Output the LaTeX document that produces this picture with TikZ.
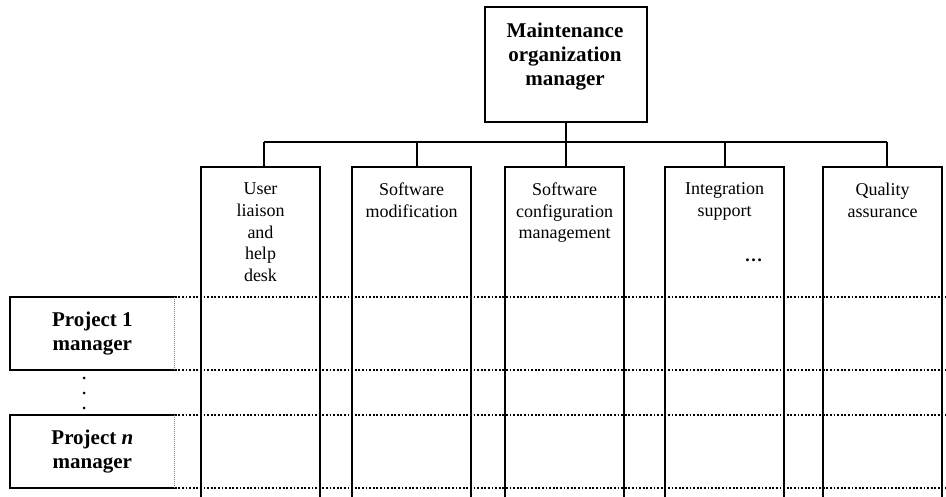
\documentclass[tikz,border=0pt]{standalone}
\usepackage{fontspec}
\setmainfont{Liberation Serif}
\begin{document}
\begin{tikzpicture}[x=1pt,y=-1pt,
  line width=1.7pt,
  reg/.style={font=\fontsize{18}{21.7}\selectfont, align=center, inner sep=0pt, anchor=north},
  bld/.style={font=\fontsize{21}{24}\selectfont\bfseries, align=center, inner sep=0pt},
  dotline/.style={line width=1.9pt, dash pattern=on 1.9pt off 1.7pt},
  thindot/.style={line width=0.8pt, dash pattern=on 1pt off 1pt, gray},
  colbox/.style={minimum width=117pt, minimum height=345pt, anchor=north, inner sep=0pt, draw=none},
  projbox/.style={bld, minimum width=163pt, minimum height=71pt, anchor=north west},
  vdot/.style={circle, fill, inner sep=0pt, minimum size=3pt},
]
\useasboundingbox (0,0) rectangle (946,497);

% top manager box
\node[draw, minimum width=162pt, minimum height=115pt, anchor=north west, inner sep=0pt] (top) at (484,6) {};
\node[bld, anchor=north] (toptext) at (565,22) {Maintenance\\organization\\manager};

% columns
\node[colbox] (c1) at (260.5,167) {};
\node[colbox] (c2) at (411.5,167) {};
\node[colbox] (c3) at (564.5,167) {};
\node[colbox] (c4) at (724.5,167) {};
\node[colbox] (c5) at (882.5,167) {};
\foreach \i in {1,...,5}{
  \draw (c\i.south west) -- (c\i.north west) -- (c\i.north east) -- (c\i.south east);
}

% bus and stems
\coordinate (s1) at (264,142);
\coordinate (s2) at (417,142);
\coordinate (s3) at (566,142);
\coordinate (s4) at (725,142);
\coordinate (s5) at (887,142);
\draw (top.south -| s3) -- (s3);
\draw (s1) -- (s5);
\foreach \i in {1,...,5}{
  \draw (s\i) -- (s\i |- c\i.north);
}

% column texts
\node[reg] (t1) at (260.5,182) {User\\liaison\\and\\help\\desk};
\node[reg] (t2) at (411.5,182) {Software\\modification};
\node[reg] (t3) at (564.5,182) {Software\\configuration\\management};
\node[reg] (t4) at (724.5,182) {Integration\\support};
\node[font=\fontsize{18}{21.7}\selectfont\bfseries, inner sep=0pt, anchor=base] (t4dots) at (753.5,262) {…};
\node[reg] (t5) at (882.5,182) {Quality\\assurance};

% project manager boxes
\node[projbox] (p1) at (10,297) {Project 1\\manager};
\node[projbox] (p2) at (10,415) {Project \textit{n}\\manager};
\foreach \p in {p1,p2}{
  \draw (\p.north east) -- (\p.north west) -- (\p.south west) -- (\p.south east);
  \draw[thindot] (\p.north east) -- (\p.south east);
}

% dotted rows
\coordinate (r) at (946,0);
\draw[dotline] (p1.north east) -- (p1.north east -| r);
\draw[dotline] (p1.south east) -- (p1.south east -| r);
\draw[dotline] (p2.north east) -- (p2.north east -| r);
\draw[dotline] (p2.south east) -- (p2.south east -| r);

% vertical dots
\node[vdot] (v1) at (84,378) {};
\node[vdot] (v2) at (84,393) {};
\node[vdot] (v3) at (84,408) {};
\end{tikzpicture}
\end{document}
